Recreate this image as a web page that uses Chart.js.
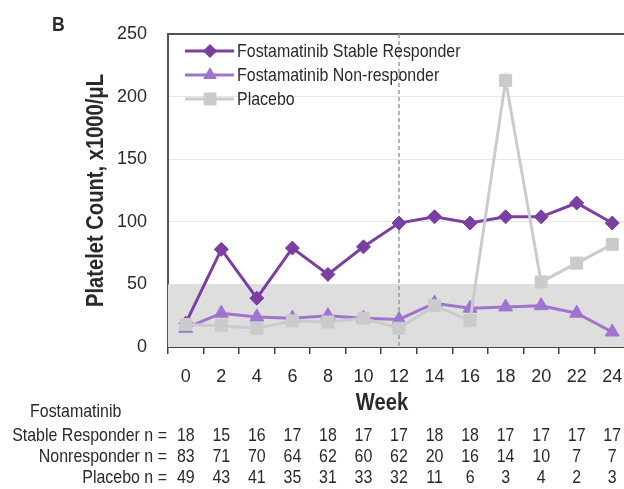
<!DOCTYPE html>
<html><head><meta charset="utf-8">
<script src="https://cdn.jsdelivr.net/npm/chart.js@4/dist/chart.umd.min.js"></script>
<style>
html,body{margin:0;padding:0;background:#fff;overflow:hidden;width:624px;height:489px;}
#wrap{position:absolute;left:0;top:0;width:640px;height:489px;}
</style></head>
<body>
<div id="wrap"><canvas id="c" width="640" height="489"></canvas></div>
<script>
const weeks = ['0','2','4','6','8','10','12','14','16','18','20','22','24'];
const stableResponder = [19, 78, 39, 79, 58, 80, 99, 104, 99, 104, 104, 115, 99];
const nonResponder   = [15, 27, 24, 23, 25, 23, 22, 35, 31, 32, 33, 27, 12];
const placebo        = [18, 17, 15, 21, 20, 23, 15, 33, 21, 213, 52, 67, 82];
const yTicks = [0, 50, 100, 150, 200, 250];
const nStable = [18,15,16,17,18,17,17,18,18,17,17,17,17];
const nNon    = [83,71,70,64,62,60,62,20,16,14,10,7,7];
const nPlacebo= [49,43,41,35,31,33,32,11,6,3,4,2,3];
const seriesNames = ['Fostamatinib Stable Responder','Fostamatinib Non-responder','Placebo'];
const rowLabels = ['Stable Responder n =','Nonresponder n =','Placebo n ='];

const C_STABLE = '#7b3fa3';
const C_NON = '#a074cc';
const C_PLA = '#cbcbcb';
const FONT = '"Liberation Sans", Arial, sans-serif';
const TXT = '#2a2a2a';
const SX = 0.84;

function txt(ctx, s, x, y, size, bold, align, rot) {
  ctx.save();
  ctx.translate(x, y);
  if (rot) ctx.rotate(rot);
  ctx.scale(SX, 1);
  ctx.font = (bold ? 'bold ' : '') + size + 'px ' + FONT;
  ctx.textAlign = align;
  ctx.textBaseline = 'middle';
  ctx.fillStyle = TXT;
  ctx.fillText(s, 0, 0);
  ctx.restore();
}

const decor = {
  id: 'decor',
  beforeDatasetsDraw(chart) {
    const {ctx, chartArea: a, scales: {x, y}} = chart;
    ctx.save();
    ctx.fillStyle = '#dedede';
    const y50 = y.getPixelForValue(50), y0 = y.getPixelForValue(0);
    ctx.fillRect(a.left, y50, a.right - a.left, y0 - y50);
    const xd = x.getPixelForValue(6);
    ctx.strokeStyle = '#9a9a9a';
    ctx.lineWidth = 1.5;
    ctx.setLineDash([4, 3]);
    ctx.beginPath(); ctx.moveTo(xd, a.top); ctx.lineTo(xd, a.bottom); ctx.stroke();
    ctx.restore();
  },
  afterDraw(chart) {
    const {ctx, chartArea: a, scales: {x, y}} = chart;
    txt(ctx, 'B', 52, 25, 21, true, 'left');
    txt(ctx, 'Platelet Count, x1000/\u03bcL', 96, (a.top + a.bottom) / 2, 24, true, 'center', -Math.PI / 2);
    txt(ctx, 'Week', 382, 403, 24, true, 'center');
    const colors = [C_STABLE, C_NON, C_PLA];
    const styles = ['rectRot', 'triangle', 'rect'];
    for (let i = 0; i < 3; i++) {
      const ly = 51 + i * 24;
      ctx.save();
      ctx.strokeStyle = colors[i]; ctx.lineWidth = 3;
      ctx.beginPath(); ctx.moveTo(185, ly); ctx.lineTo(234, ly); ctx.stroke();
      Chart.helpers.drawPoint(ctx, {pointStyle: styles[i], radius: i === 2 ? 7 : 5, rotation: 0, borderWidth: 1}, 210, ly);
      ctx.fillStyle = colors[i];
      ctx.fill();
      ctx.restore();
      txt(ctx, seriesNames[i], 237, ly + 1, 19, false, 'left');
    }
    txt(ctx, 'Fostamatinib', 30, 412, 19, false, 'left');
    const rows = [nStable, nNon, nPlacebo];
    const rowY = [436, 457, 478];
    for (let r = 0; r < 3; r++) {
      txt(ctx, rowLabels[r], 167, rowY[r], 19, false, 'right');
      rows[r].forEach((v, i) => txt(ctx, String(v), x.getPixelForValue(i), rowY[r], 19, false, 'center'));
    }
  }
};

new Chart(document.getElementById('c'), {
  type: 'line',
  data: {
    labels: weeks,
    datasets: [
      {label: seriesNames[0], data: stableResponder, borderColor: C_STABLE, backgroundColor: C_STABLE,
       borderWidth: 3, pointStyle: 'rectRot', pointRadius: 7, pointBorderWidth: 1, order: 2},
      {label: seriesNames[1], data: nonResponder, borderColor: C_NON, backgroundColor: C_NON,
       borderWidth: 3, pointStyle: 'triangle', pointRadius: 8, pointBorderWidth: 1, order: 1},
      {label: seriesNames[2], data: placebo, borderColor: C_PLA, backgroundColor: C_PLA,
       borderWidth: 3, pointStyle: 'rect', pointRadius: 8.5, pointBorderWidth: 1, order: 0}
    ]
  },
  options: {
    responsive: false,
    animation: false,
    layout: {padding: {top: 34, right: 10, left: 0, bottom: 0}},
    plugins: {legend: {display: false}, tooltip: {enabled: false}},
    scales: {
      x: {
        offset: true,
        grid: {offset: true, drawOnChartArea: false, drawTicks: true, tickLength: 7, color: '#444', lineWidth: 1.5},
        border: {display: true, color: '#444', width: 2},
        ticks: {color: TXT, font: {family: FONT, size: 18}, padding: 12, maxRotation: 0, autoSkip: false},
        afterFit(s) { s.height = 142; }
      },
      y: {
        min: 0, max: 250,
        afterBuildTicks(s) { s.ticks = yTicks.map(v => ({value: v})); },
        grid: {
          drawTicks: false,
          color: (c) => c.tick && c.tick.value === 250 ? '#555' : (c.tick && c.tick.value === 0 ? 'rgba(0,0,0,0)' : '#e6e6e6'),
          lineWidth: (c) => c.tick && c.tick.value === 250 ? 2 : 1
        },
        border: {display: true, color: '#555', width: 2},
        ticks: {color: TXT, font: {family: FONT, size: 18}, padding: 21},
        afterFit(s) { s.width = 168; }
      }
    }
  },
  plugins: [decor]
});
</script>
</body></html>
